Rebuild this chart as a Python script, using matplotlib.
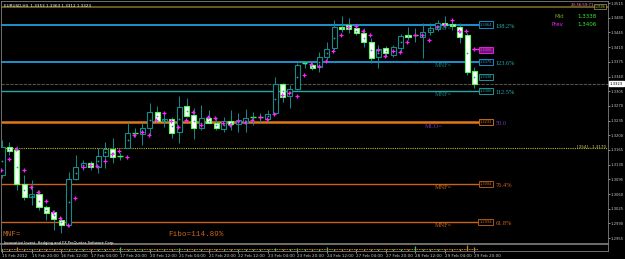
import matplotlib
matplotlib.use("Agg")
import matplotlib.pyplot as plt
import matplotlib.transforms as mtransforms
from matplotlib.patches import Rectangle
import numpy as np

# EURUSD H4, 15 Feb - 29 Feb 2012
symbol_info = "EURUSD,H4  1.3353 1.3363 1.3312 1.3323"

opens = [1.3106, 1.3172, 1.3165, 1.3084, 1.3053, 1.3060, 1.3029, 1.3017, 1.2999, 1.2987,
         1.3096, 1.3125, 1.3134, 1.3125, 1.3151, 1.3168, 1.3148, 1.3170, 1.3204, 1.3203,
         1.3218, 1.3256, 1.3234, 1.3239, 1.3208, 1.3270, 1.3248, 1.3218, 1.3241, 1.3229,
         1.3215, 1.3234, 1.3227, 1.3229, 1.3242, 1.3242, 1.3239, 1.3253, 1.3322, 1.3294,
         1.3310, 1.3370, 1.3367, 1.3363, 1.3386, 1.3408, 1.3458, 1.3463, 1.3455, 1.3444,
         1.3422, 1.3386, 1.3408, 1.3391, 1.3408, 1.3439, 1.3438, 1.3434, 1.3446, 1.3453,
         1.3467, 1.3465, 1.3458, 1.3439, 1.3353]
highs = [1.3189, 1.3184, 1.3175, 1.3106, 1.3094, 1.3070, 1.3034, 1.3022, 1.3006, 1.3113,
         1.3153, 1.3141, 1.3139, 1.3170, 1.3184, 1.3193, 1.3158, 1.3232, 1.3218, 1.3229,
         1.3277, 1.3270, 1.3256, 1.3244, 1.3294, 1.3289, 1.3265, 1.3272, 1.3260, 1.3244,
         1.3244, 1.3260, 1.3253, 1.3263, 1.3256, 1.3253, 1.3260, 1.3339, 1.3325, 1.3320,
         1.3372, 1.3374, 1.3374, 1.3398, 1.3422, 1.3475, 1.3484, 1.3479, 1.3463, 1.3455,
         1.3432, 1.3415, 1.3413, 1.3415, 1.3441, 1.3458, 1.3455, 1.3467, 1.3467, 1.3475,
         1.3484, 1.3475, 1.3467, 1.3444, 1.3363]
lows = [1.3098, 1.3153, 1.3070, 1.3046, 1.3034, 1.3022, 1.2999, 1.2975, 1.2968, 1.2982,
        1.3094, 1.3118, 1.3118, 1.3110, 1.3122, 1.3134, 1.3141, 1.3170, 1.3196, 1.3177,
        1.3201, 1.3232, 1.3220, 1.3193, 1.3182, 1.3244, 1.3191, 1.3213, 1.3229, 1.3213,
        1.3208, 1.3213, 1.3208, 1.3208, 1.3225, 1.3232, 1.3232, 1.3253, 1.3279, 1.3265,
        1.3308, 1.3360, 1.3355, 1.3351, 1.3379, 1.3403, 1.3446, 1.3444, 1.3439, 1.3410,
        1.3372, 1.3360, 1.3386, 1.3386, 1.3398, 1.3427, 1.3422, 1.3384, 1.3439, 1.3448,
        1.3455, 1.3451, 1.3420, 1.3344, 1.3312]
closes = [1.3172, 1.3163, 1.3084, 1.3053, 1.3060, 1.3029, 1.3015, 1.3001, 1.2987, 1.3096,
          1.3125, 1.3134, 1.3125, 1.3151, 1.3168, 1.3148, 1.3150, 1.3206, 1.3206, 1.3218,
          1.3256, 1.3234, 1.3238, 1.3206, 1.3268, 1.3246, 1.3218, 1.3241, 1.3229, 1.3218,
          1.3234, 1.3227, 1.3236, 1.3241, 1.3244, 1.3244, 1.3251, 1.3322, 1.3291, 1.3310,
          1.3367, 1.3372, 1.3360, 1.3386, 1.3406, 1.3458, 1.3453, 1.3453, 1.3444, 1.3422,
          1.3384, 1.3406, 1.3396, 1.3410, 1.3436, 1.3434, 1.3439, 1.3446, 1.3455, 1.3467,
          1.3463, 1.3460, 1.3434, 1.3351, 1.3323]

# magenta indicator dots drawn next to each bar
dots = [1.3118, 1.3144, 1.3168, 1.3118, 1.3077, 1.3065, 1.3044, 1.3017, 1.3003, 1.2987,
        1.3051, 1.3125, 1.3129, 1.3127, 1.3139, 1.3156, 1.3163, 1.3148, 1.3201, 1.3208,
        1.3201, 1.3236, 1.3253, 1.3234, 1.3220, 1.3236, 1.3256, 1.3225, 1.3244, 1.3241,
        1.3229, 1.3225, 1.3234, 1.3232, 1.3236, 1.3244, 1.3239, 1.3251, 1.3296, 1.3301,
        1.3294, 1.3344, 1.3370, 1.3365, 1.3377, 1.3401, 1.3439, 1.3458, 1.3460, 1.3448,
        1.3439, 1.3403, 1.3389, 1.3401, 1.3398, 1.3422, 1.3439, 1.3439, 1.3427, 1.3458,
        1.3463, 1.3475, 1.3448, 1.3448, 1.3406]

# lower indicator window
ind_vals = [0.3, 0.25, 0.6, 0.3, 0.25, 0.3, 0.25, 0.3, 0.25, 0.35,
            0.3, 0.25, 0.3, 0.35, 0.3, 0.25, 0.6, 0.3, 0.25, 0.3,
            0.3, 0.35, 0.25, 0.3, 0.5, 0.3, 0.25, 0.3, 0.35, 0.3,
            0.25, 0.3, 0.3, 0.25, 0.35, 0.3, 0.3, 0.45, 0.3, 0.25,
            0.5, 0.3, 0.25, 0.3, 0.6, 0.3, 0.25, 0.3, 0.3, 0.35,
            0.3, 0.35, 0.3, 0.25, 0.3, 0.3, 0.8, 0.3, 0.25, 0.35,
            0.3, 0.3, 0.3, 1.0, 0.7]

time_labels = ["15 Feb 2012", "15 Feb 20:00", "16 Feb 12:00", "17 Feb 04:00",
               "17 Feb 20:00", "20 Feb 12:00", "21 Feb 04:00", "21 Feb 20:00",
               "22 Feb 12:00", "23 Feb 04:00", "23 Feb 20:00", "24 Feb 12:00",
               "27 Feb 04:00", "27 Feb 20:00", "28 Feb 12:00", "29 Feb 04:00",
               "29 Feb 20:00"]
price_ticks = [1.3515, 1.3480, 1.3445, 1.3410, 1.3375, 1.3340, 1.3305, 1.3270, 1.3235,
               1.3200, 1.3165, 1.3130, 1.3095, 1.3060, 1.3025, 1.2990, 1.2955]

# fibo expansion levels
fib_prices = [1.3464, 1.3375, 1.3306, 1.3231, 1.3084, 1.2994]
fib_boxes = ["1.3464", "1.3375", "1.3306", "1.3231", "1.3084", "1.2994"]
fib_pcts = ["138.2%", "123.6%", "112.5%", "50.0", "76.4%", "61.8%"]
fib_names = ["MNF=", "MNF=", "MNF=", "MCO=", "MNF=", "MNF="]
fibo_text = "Fibo=114.89%"

mid_price = 1.3338
prev_price = 1.3406
bid_price = 1.3323
pivot_price = 1.3170
pivot_text = "[354] - 1.3170"
top_price = 1.3506
timer_text = "23:36:59:71"
footer_text = "Innovative Invest. Hedging and FX ProQuotes Software Corp."

BG = "black"
TEAL = "#148c8c"
BEAR_EDGE = "#55ff55"
GRAY = "#808080"
TXT = "#c8c8c8"
ORANGE = "#c8641c"
BLUE = "#1f9ee0"
CYAN = "#22aaaa"
PURPLE = "#7a35b0"
MAGENTA = "#ff22ff"

fig = plt.figure(figsize=(6.25, 2.59), dpi=100, facecolor=BG)
ax = fig.add_axes([1 / 625, 15 / 259, 607 / 625, 243 / 259], facecolor=BG)
x_min, x_max = -0.15, 82.1
ax.set_xlim(x_min, x_max)
ax.set_ylim(1.2941, 1.3520)

n = len(opens)
xs = np.arange(n)

# candles
for i in range(n):
    o, h, l, c = opens[i], highs[i], lows[i], closes[i]
    ax.vlines(i, l, h, color=TEAL, lw=0.7, zorder=3)
    if abs(c - o) < 0.00025:
        ax.hlines(c, i - 0.38, i + 0.38, color="#33ff33", lw=1.0, zorder=4)
    elif c > o:
        ax.add_patch(Rectangle((i - 0.34, o), 0.68, c - o, facecolor=BG,
                               edgecolor=TEAL, lw=0.8, zorder=4))
    else:
        ax.add_patch(Rectangle((i - 0.34, c), 0.68, o - c, facecolor="white",
                               edgecolor=BEAR_EDGE, lw=0.8, zorder=4))
mids = [(o + c) / 2 for o, c in zip(opens, closes)]
ax.plot(xs, mids, "+", color="#2aa0a0", ms=2, mew=0.5, zorder=5)
ax.plot(xs - 0.1, dots, "+", color=MAGENTA, ms=2.6, mew=0.9, zorder=5)

# horizontal lines
line_end = 64.6
x_box = 65.55
x_pct = 66.9
x_name = 58.6
line_cols = [BLUE, BLUE, CYAN, "#e07818", ORANGE, ORANGE]
line_wids = [1.3, 1.3, 1.0, 1.8, 1.0, 1.0]
txt_cols = [CYAN, CYAN, CYAN, PURPLE, ORANGE, ORANGE]
name_cols = ["#1a8080", "#1a8080", "#1a8080", PURPLE, ORANGE, ORANGE]
for p, box, pct, name, lc, lw, tc, nc in zip(fib_prices, fib_boxes, fib_pcts, fib_names,
                                             line_cols, line_wids, txt_cols, name_cols):
    ax.hlines(p, x_min, line_end, color=lc, lw=lw, zorder=2)
    ax.text(x_box, p, box, fontsize=2.6, color=lc, ha="center", va="center", zorder=6,
            bbox=dict(boxstyle="square,pad=0.3", fc=BG, ec=lc, lw=0.6))
    ax.text(x_pct, p - 0.0004, pct, fontsize=4.6, color=tc, ha="left", va="center",
            family="Liberation Serif")
    ax.text(x_name - (1.3 if name == "MCO=" else 0), p - 0.0003, name, fontsize=4.5,
            color=nc, ha="left", va="top", family="Liberation Serif", zorder=6)

ax.text(x_box, mid_price, f"{mid_price:.4f}", fontsize=2.6, color=CYAN, ha="center",
        va="center", bbox=dict(boxstyle="square,pad=0.3", fc=BG, ec=CYAN, lw=0.6))
ax.hlines(prev_price, 63.7, 64.6, color=MAGENTA, lw=1.0)
ax.text(x_box, prev_price - 0.0003, f"{prev_price:.4f}", fontsize=2.6, color=MAGENTA,
        ha="center", va="center",
        bbox=dict(boxstyle="square,pad=0.3", fc="#6a1a6a", ec=MAGENTA, lw=0.6))

ax.axhline(bid_price, color="#505050", lw=0.8, ls=(0, (3, 1)), zorder=1)
ax.axhline(pivot_price, color="#b4b428", lw=0.8, ls=(0, (1, 1)), zorder=1)
ax.text(81.8, pivot_price, pivot_text, fontsize=3, color="#c8c864", ha="right", va="bottom")
ax.axhline(top_price, color="#7a6a20", lw=1.2, zorder=1)

# info texts
ax.text(0.2, 1.3508, symbol_info, fontsize=3, color="white", ha="left", va="center")
ax.text(74.9, 1.3484, "Mid", fontsize=4, color="#6b9e23", ha="left", va="center")
ax.text(77.9, 1.3484, f"{mid_price:.4f}", fontsize=4, color="#33ee33", ha="left", va="center")
ax.text(74.4, 1.3465, "Prev", fontsize=4, color=MAGENTA, ha="left", va="center")
ax.text(77.9, 1.3465, f"{prev_price:.4f}", fontsize=4, color="#33ee33", ha="left", va="center")
ax.text(77.0, 1.3510, timer_text, fontsize=2.8, color="#ff80c0", ha="left", va="center")
ax.text(81.0, top_price, f"{top_price:.4f}", fontsize=2.2, color="#c8c864", ha="center",
        va="center", bbox=dict(boxstyle="square,pad=0.2", fc=BG, ec="#c8c864", lw=0.4))
ax.text(0.1, 1.2963, "MNF=", fontsize=5.5, color=ORANGE, ha="left", va="center",
        family="Liberation Mono")
ax.text(22.5, 1.2963, fibo_text, fontsize=5.5, color=ORANGE, ha="left", va="center",
        family="Liberation Mono")

# price scale on the right
ax.set_xticks([])
ax.set_yticks(price_ticks)
ax.set_yticklabels([f"{t:.4f}" for t in price_ticks])
ax.tick_params(axis="y", left=False, labelleft=False, right=True, labelright=True,
               colors=TXT, labelsize=2.7, length=1.2, width=0.5, pad=0.4)
trans = mtransforms.blended_transform_factory(ax.transAxes, ax.transData)
ax.text(1.003, bid_price, f"{bid_price:.4f}", transform=trans, fontsize=2.7, color="black",
        ha="left", va="center", bbox=dict(boxstyle="square,pad=0.15", fc="white", ec="white"))
for s in ax.spines.values():
    s.set_color(GRAY)
    s.set_linewidth(0.6)
ax.spines["bottom"].set_linewidth(1.2)

# indicator window and time scale
ax2 = fig.add_axes([1 / 625, 8 / 259, 607 / 625, 7 / 259], facecolor=BG)
ax2.set_xlim(x_min, x_max)
ax2.set_ylim(0, 1.1)
bar_cols = ["#22cc66" if c >= o else "#c88020" for o, c in zip(opens, closes)]
ax2.vlines(xs, 0, ind_vals, colors=bar_cols, lw=0.9)
ax2.hlines(0.3, x_min, n - 0.5, color="#c88020", lw=0.6, ls=(0, (2, 1)))
ax2.text(0.2, 1.0, footer_text, fontsize=2.6, color="white", ha="left", va="bottom")
ax2.set_yticks([])
ax2.set_xticks(xs[::4])
ax2.set_xticklabels(time_labels, ha="left")
ax2.tick_params(axis="x", colors=TXT, labelsize=3, length=1.5, width=0.5, pad=0.5)
for s in ax2.spines.values():
    s.set_color(GRAY)
    s.set_linewidth(0.6)

fig.savefig("out.png", dpi=100, facecolor=BG)
